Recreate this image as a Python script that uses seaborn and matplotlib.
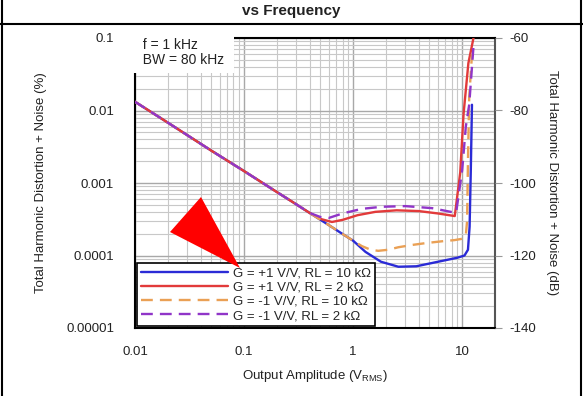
import numpy as np
import pandas as pd
import matplotlib
matplotlib.use("Agg")
import matplotlib.pyplot as plt
import seaborn as sns
from matplotlib.patches import Polygon
from matplotlib.lines import Line2D

sns.set_style("white")
plt.rcParams['font.family'] = ['Liberation Sans', 'DejaVu Sans']
plt.rcParams['axes.unicode_minus'] = False

# ---- data ----
blue_x = [0.01, 0.02, 0.05, 0.1, 0.2, 0.3, 0.4, 0.6, 0.8, 1.0, 1.3, 1.8, 2.6, 3.8, 6.0, 9.0, 10.5, 11.3, 11.7, 12.0, 12.3]
blue_y = [0.0132, 0.0068, 0.0028, 0.00146, 0.00075, 0.00051, 0.000386, 0.000262, 0.000198, 0.00016, 0.000112, 0.000082, 0.00007, 0.000071, 0.000082, 0.000093, 0.0001, 0.00012, 0.00025, 0.0015, 0.012]

red_x = [0.01, 0.02, 0.05, 0.1, 0.2, 0.3, 0.4, 0.5, 0.64, 0.8, 1.1, 1.6, 2.5, 4.0, 6.0, 8.55, 9.6, 10.3, 11.4, 12.7]
red_y = [0.0132, 0.0068, 0.0028, 0.00146, 0.00075, 0.00051, 0.000386, 0.00032, 0.00029, 0.00031, 0.00036, 0.0004, 0.00042, 0.00041, 0.00038, 0.00035, 0.0014, 0.009, 0.045, 0.1]

orange_x = [0.01, 0.02, 0.05, 0.1, 0.2, 0.3, 0.4, 0.6, 0.8, 1.0, 1.2, 1.45, 1.7, 2.1, 2.6, 3.5, 4.6, 6.5, 8.5, 10.0, 10.8, 11.1, 11.3, 11.6, 12.3]
orange_y = [0.0132, 0.0068, 0.0028, 0.00146, 0.00075, 0.00051, 0.000386, 0.000262, 0.000198, 0.00016, 0.000135, 0.00012, 0.000116, 0.00012, 0.00013, 0.00014, 0.000148, 0.000157, 0.000163, 0.00017, 0.00019, 0.0003, 0.002, 0.015, 0.06]

purple_x = [0.01, 0.02, 0.05, 0.1, 0.2, 0.3, 0.4, 0.5, 0.6, 0.8, 1.2, 1.84, 3.0, 5.3, 7.85, 8.8, 10.0, 10.8, 11.6, 12.3, 12.8]
purple_y = [0.0132, 0.0068, 0.0028, 0.00146, 0.00075, 0.00051, 0.000386, 0.00034, 0.00033, 0.00038, 0.00044, 0.00047, 0.00048, 0.00045, 0.0004, 0.00039, 0.0015, 0.006, 0.012, 0.04, 0.09]

labels = ["G = +1 V/V, RL = 10 k\u03a9", "G = +1 V/V, RL = 2 k\u03a9",
          "G = -1 V/V, RL = 10 k\u03a9", "G = -1 V/V, RL = 2 k\u03a9"]
colors = ["#2b2bd6", "#e23a3a", "#eaa055", "#9035c8"]
styles = ["-", "-", (0, (5, 3)), (0, (5, 3))]

x_ticks = [0.01, 0.1, 1, 10]
x_ticklabels = ["0.01", "0.1", "1", "10"]
y_ticks = [0.00001, 0.0001, 0.001, 0.01, 0.1]
y_ticklabels = ["0.00001", "0.0001", "0.001", "0.01", "0.1"]
db_ticks = [-140, -120, -100, -80, -60]

series = [(blue_x, blue_y), (red_x, red_y), (orange_x, orange_y), (purple_x, purple_y)]

W, H = 583, 396
fig = plt.figure(figsize=(W / 100, H / 100), dpi=100)
ax = fig.add_axes([135 / W, 1 - 328 / H, (495 - 135) / W, (328 - 38) / H])

ax.set_xscale("log")
ax.set_yscale("log")
ax.set_xlim(0.01, 20)
ax.set_ylim(0.00001, 0.1)

ax.grid(True, which="major", color="#a8a8a8", lw=1.0)
ax.grid(True, which="minor", color="#c8c8c8", lw=0.8)
ax.set_axisbelow(True)

handles = []
for (xs, ys), lab, c, ls in zip(series, labels, colors, styles):
    df = pd.DataFrame({"x": xs, "y": ys})
    sns.lineplot(data=df, x="x", y="y", ax=ax, color=c, lw=1.7, linestyle=ls,
                 estimator=None, sort=False, zorder=3)
    handles.append(Line2D([], [], color=c, lw=1.7, linestyle=ls))

ax.set_xticks(x_ticks)
ax.set_xticklabels(x_ticklabels)
ax.set_yticks(y_ticks)
ax.set_yticklabels(y_ticklabels)
ax.tick_params(axis="both", which="both", length=0, labelsize=9.5, colors="#222222")
ax.tick_params(axis="y", pad=15)
ax.tick_params(axis="x", pad=13)
ax.set_xlabel("Output Amplitude (V$_\\mathregular{RMS}$)", fontsize=9.5, labelpad=7, color="#222222")
ax.set_ylabel("Total Harmonic Distortion + Noise (%)", fontsize=9.5, labelpad=14, color="#222222")

for s in ["left", "bottom", "top"]:
    ax.spines[s].set_color("black")
    ax.spines[s].set_linewidth(1.5)
ax.spines["right"].set_color("#555555")
ax.spines["right"].set_linewidth(1.5)

ax2 = ax.twinx()
ax2.set_ylim(-140, -60)
ax2.set_yticks(db_ticks)
ax2.tick_params(axis="y", length=5, width=0.8, color="#999999", labelsize=9.5, pad=5, labelcolor="#222222")
ax2.set_ylabel("Total Harmonic Distortion + Noise (dB)", fontsize=9.5, rotation=270,
               labelpad=16, color="#222222")
for s in ax2.spines.values():
    s.set_visible(False)

ax.text(0.0, 1.0, "  f = 1 kHz\n  BW = 80 kHz ", transform=ax.transAxes, ha="left", va="top",
        fontsize=10, color="#222222", linespacing=1.1, zorder=4,
        bbox=dict(boxstyle="square,pad=0.45", fc="white", ec="none"))

leg = ax.legend(handles, labels, loc="lower left", fontsize=9.5, frameon=True, fancybox=False,
                edgecolor="black", framealpha=1, handlelength=6.6, borderaxespad=0.15,
                labelspacing=0.15, handletextpad=0.4, borderpad=0.3)
leg.get_frame().set_linewidth(1.2)
leg.set_zorder(5)

# page frame and title
fig.add_artist(Line2D([0, 1], [1 - 24 / H, 1 - 24 / H], color="black", lw=1.5, transform=fig.transFigure))
fig.add_artist(Line2D([1.5 / W, 1.5 / W], [0, 1], color="black", lw=1.5, transform=fig.transFigure))
fig.add_artist(Line2D([1 - 2 / W, 1 - 2 / W], [0, 1], color="black", lw=1.5, transform=fig.transFigure))
fig.text(0.5, 1 - 11 / H, "vs Frequency", ha="center", va="center", fontsize=11, fontweight="bold",
         color="#222222")

# red arrow marker
tri = np.array([[201, 197], [170, 232], [240, 268]], dtype=float)
tri[:, 0] /= W
tri[:, 1] = 1 - tri[:, 1] / H
fig.add_artist(Polygon(tri, closed=True, fc="#ff0000", ec="none", transform=fig.transFigure, zorder=10))

fig.savefig("out.png", dpi=100)
